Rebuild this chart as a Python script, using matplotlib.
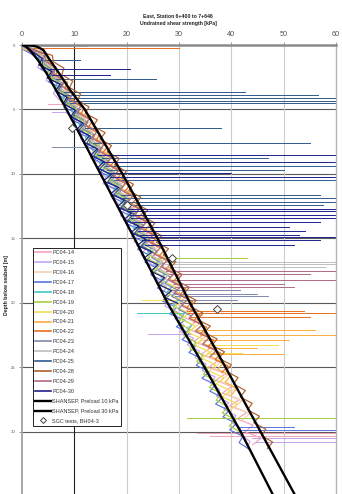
import numpy as np
import matplotlib
matplotlib.use("Agg")
import matplotlib.pyplot as plt
from matplotlib.lines import Line2D

plt.rcParams["font.family"] = ["Liberation Sans", "DejaVu Sans"]

# ---------------- data ----------------
DEPTH_STEP = 0.5  # m between successive readings of every profile

pc04_14 = [0.5, 3.8, 3.1, 5.6, 4.9, 7.3, 6.5, 8.8, 7.9, 10.1, 9.6, 11.9, 10.8, 13.4, 12.2, 14.6, 13.5, 16.2, 15.0, 17.5,
           16.3, 18.9, 17.6, 20.3, 18.8, 21.5, 20.1, 22.9, 21.3, 24.1, 22.6, 25.4, 24.0, 26.9, 25.1, 28.0, 26.4, 29.3, 27.8, 30.6,
           28.9, 31.9, 30.2, 33.1, 31.5, 34.6, 32.8, 36.0, 34.2, 37.4, 35.6, 38.9, 37.0, 40.1, 38.3, 41.6, 39.7, 43.0, 41.1, 44.2,
           42.6, 45.7, 44.1]
pc04_15 = [0.3, 2.2, 3.5, 3.0, 5.1, 4.6, 6.8, 6.0, 7.1, 8.9, 8.4, 10.6, 9.9, 11.8, 11.2, 12.0, 13.9, 13.1, 15.2, 14.6,
           16.0, 15.5, 17.9, 17.0, 18.3, 19.6, 18.8, 20.9, 20.1, 22.2, 21.4, 23.8, 22.7, 24.1, 25.4, 24.6, 26.0, 27.6, 26.9, 28.1,
           27.3, 29.9, 29.2, 31.0, 30.3, 32.8, 31.6, 33.9, 33.1, 35.2, 34.5, 36.9, 36.0, 37.8, 37.2, 39.5, 38.6, 40.9, 40.0, 41.8,
           41.9, 43.6, 43.0]
pc04_16 = [0.8, 4.6, 3.9, 6.1, 5.3, 7.9, 7.0, 9.5, 8.2, 10.8, 11.6, 10.7, 13.4, 12.1, 14.9, 13.5, 15.8, 16.9, 15.4, 18.2,
           17.0, 19.5, 18.1, 20.8, 19.9, 22.3, 20.7, 23.5, 22.0, 24.9, 23.6, 26.0, 24.8, 27.4, 25.9, 28.6, 27.3, 29.9, 28.6, 31.2,
           29.8, 32.5, 31.0, 33.9, 32.4, 35.1, 33.8, 36.6, 35.2, 37.9, 36.7, 39.3, 37.9, 40.8, 39.3, 42.0, 40.7, 43.5, 42.1]
pc04_17 = [0.2, 2.5, 4.2, 3.6, 6.0, 5.1, 7.6, 6.8, 9.1, 8.0, 10.9, 9.8, 12.2, 11.0, 13.6, 12.4, 14.9, 13.8, 16.3, 15.0,
           17.5, 16.2, 18.8, 17.5, 20.0, 18.6, 21.3, 19.9, 22.6, 21.0, 23.8, 22.1, 24.6, 23.5, 26.0, 24.7, 27.2, 25.9, 28.4, 26.8,
           29.6, 28.2, 31.1, 29.5, 32.0, 30.6, 33.2, 31.9, 34.5, 33.3, 35.8, 34.4, 37.0, 35.9, 38.3, 37.0, 39.6, 38.4, 41.0, 39.7,
           42.2, 41.5, 43.4]
pc04_18 = [0.4, 3.3, 3.4, 5.2, 4.9, 7.1, 6.4, 8.3, 7.8, 10.0, 9.5, 11.6, 10.9, 13.0, 12.1, 14.3, 13.5, 15.6, 14.9, 17.0,
           16.2, 18.3, 17.6, 19.8, 18.9, 21.0, 20.2, 22.5, 21.3, 23.6, 22.8, 24.9, 23.9, 26.2, 25.3, 27.4, 26.6, 28.8, 27.7, 30.1,
           28.9, 31.2, 30.4, 32.5, 31.6]
pc04_19 = [0.6, 2.9, 4.6, 4.0, 6.2, 5.6, 7.8, 7.0, 9.2, 8.4, 10.8, 10.1, 12.3, 11.4, 13.8, 12.9, 15.0, 14.1, 16.4, 15.5,
           17.9, 16.8, 19.0, 18.1, 20.4, 19.3, 21.6, 20.5, 22.9, 21.7, 24.1, 22.8, 25.0, 24.0, 26.3, 25.1, 27.4, 26.2, 28.6, 27.4,
           29.7, 28.6, 30.9, 29.8, 32.1, 30.9, 33.3, 32.1, 34.6, 33.4, 35.6, 34.7, 37.0, 35.8, 38.1, 37.1, 39.4, 38.3, 40.8, 39.6,
           41.9]
pc04_20 = [0.3, 3.6, 3.8, 5.5, 5.0, 7.3, 6.7, 8.9, 8.0, 10.5, 9.7, 11.9, 11.2, 13.5, 12.4, 14.8, 13.6, 16.2, 15.0, 17.6,
           16.5, 18.9, 17.7, 20.4, 19.0, 21.6, 20.3, 23.0, 21.6, 24.3, 22.8, 25.5, 24.0, 26.8, 25.3, 28.0, 26.7, 29.5, 27.8, 30.6,
           29.2, 31.9, 30.4, 33.2, 31.8, 34.5, 33.1, 35.9, 34.4, 37.0, 35.8, 38.6, 37.1, 39.8, 38.3, 41.1, 39.9]
pc04_21 = [0.7, 4.3, 4.6, 6.2, 6.0, 8.1, 7.7, 9.8, 9.1, 11.3, 10.8, 12.9, 12.1, 14.4, 13.6, 15.7, 14.9, 17.3, 16.3, 18.7,
           17.6, 20.1, 19.0, 21.4, 20.3, 22.6, 21.6, 24.0, 22.9, 25.3, 24.2, 26.6, 25.5, 27.9, 26.8, 29.3, 28.2, 30.5, 29.4, 31.9,
           30.6, 33.2, 32.0, 34.5, 33.3, 35.8, 34.7, 37.2, 36.0, 38.5, 37.4, 39.9, 38.8, 41.1, 40.0]
pc04_22 = [1.0, 4.9, 5.0, 6.8, 6.4, 8.7, 8.2, 10.3, 9.6, 11.9, 11.2, 13.5, 12.6, 14.9, 14.1, 16.4, 15.3, 17.8, 16.9, 19.2,
           18.1, 20.6, 19.5, 21.9, 20.8, 23.3, 22.2, 24.6, 23.4, 25.9, 24.7, 27.3, 26.1, 28.6, 27.4, 29.9, 28.8, 31.3, 30.1, 32.6,
           31.4, 34.0, 32.8, 35.3, 34.1, 36.7, 35.5, 38.0, 36.9, 39.4, 38.2]
pc04_23 = [0.4, 3.2, 4.5, 4.3, 6.3, 5.8, 7.9, 7.2, 9.4, 8.7, 11.0, 10.3, 12.6, 11.6, 13.9, 12.9, 15.3, 14.4, 16.6, 15.7,
           18.0, 17.1, 19.3, 18.4, 20.6, 19.7, 22.0, 20.9, 23.3, 22.2, 24.6, 23.4, 25.9, 24.8, 27.1, 26.0, 28.4, 27.3, 29.7, 28.6,
           31.0, 29.9, 32.3]
pc04_24 = [0.5, 3.9, 4.0, 5.9, 5.3, 7.4, 6.9, 9.0, 8.3, 10.6, 9.9, 12.1, 11.3, 13.4, 12.8, 14.9, 14.0, 16.2, 15.4, 17.5,
           16.7, 19.0, 17.9, 20.3, 19.3, 21.5, 20.6, 22.9, 21.8, 24.2, 23.2, 25.4, 24.4, 26.8, 25.7, 28.0, 27.1]
pc04_25 = [0.2, 2.4, 4.1, 3.8, 5.9, 5.2, 7.6, 6.7, 8.9, 8.1, 10.4, 9.6, 11.9, 10.9, 13.2, 12.4, 14.6, 13.7, 16.0, 14.9,
           17.3, 16.4, 18.7, 17.6, 20.0, 18.9, 21.4, 20.2, 22.6, 21.5, 23.9, 22.8, 25.1]
pc04_28 = [1.2, 5.8, 6.0, 8.0, 7.6, 9.7, 9.1, 11.2, 10.6, 12.8, 12.1, 14.4, 13.6, 15.9, 14.9, 17.1, 16.3, 18.6, 17.7, 19.9,
           19.0, 21.3, 20.4, 22.7, 21.8, 24.0, 23.1, 25.4, 24.5, 26.7, 25.7, 28.0, 27.0, 29.4, 28.3, 30.6, 29.6, 32.0, 30.9, 33.3,
           32.2, 34.6, 33.5, 36.0, 34.8, 37.3, 36.3, 38.7, 37.6, 40.0, 39.0, 41.3, 40.4, 42.7, 41.7, 44.0, 43.1, 45.4, 44.3, 46.6,
           45.8, 47.9, 46.9]
pc04_29 = [0.6, 4.4, 4.1, 6.5, 5.8, 8.1, 7.6, 9.8, 9.0, 11.3, 10.5, 12.9, 12.0, 14.4, 13.3, 15.8, 14.6, 17.0, 16.1, 18.5,
           17.4, 19.8, 18.7, 21.2, 20.0, 22.5, 21.3, 23.9, 22.6, 25.1, 24.0, 26.5, 25.2, 27.8, 26.5, 29.1, 27.9, 30.4, 29.1, 31.8,
           30.5, 33.1, 31.9, 34.5, 33.1, 35.8, 34.5, 37.2, 35.9]
pc04_30 = [0.3, 2.0, 3.9, 3.2, 5.7, 4.8, 7.3, 6.4, 8.6, 7.9, 10.2, 9.3, 11.6, 10.5, 12.9, 11.8, 14.4, 13.1, 15.6, 14.4,
           17.0, 15.6, 18.4, 16.9, 19.6, 18.2, 20.9, 19.5, 22.3, 20.8, 23.6, 22.0, 24.8, 23.3, 26.0, 24.6, 27.3, 25.9, 28.6, 27.1,
           29.8]

# depth of the first reading of each profile [m]
series_first_depth = [0.0, 0.25, 0.1, 0.35, 0.2, 0.05, 0.3, 0.15, 0.4, 0.0, 0.25, 0.1, 0.3, 0.2, 0.05]

# isolated spikes of each profile: (depth, strength before, strength at spike)
spikes_pc04_14 = [(30.1, 33.5, 60.0), (30.3, 36.0, 60.0), (4.6, 8.5, 5.0)]
spikes_pc04_15 = [(22.4, 32.5, 24.0), (30.5, 44.0, 60.0), (30.8, 44.5, 60.0), (5.2, 9.0, 5.8)]
spikes_pc04_16 = []
spikes_pc04_17 = [(29.6, 41.0, 52.0), (29.9, 41.5, 60.0)]
spikes_pc04_18 = [(20.8, 30.5, 22.0)]
spikes_pc04_19 = [(16.5, 25.5, 43.0), (28.9, 31.5, 60.0)]
spikes_pc04_20 = [(19.8, 29.5, 23.0), (23.3, 35.0, 49.0), (23.9, 35.5, 42.0)]
spikes_pc04_21 = [(22.1, 33.5, 56.0), (22.5, 34.0, 60.0), (22.9, 34.5, 51.0), (23.5, 35.5, 45.0), (24.0, 36.0, 50.0)]
spikes_pc04_22 = [(0.25, 1.5, 30.0), (20.6, 31.5, 53.8), (20.8, 31.8, 60.0), (21.1, 32.0, 55.0)]
spikes_pc04_23 = [(7.9, 13.8, 5.7), (19.0, 28.6, 41.7), (19.3, 29.0, 45.0), (19.5, 29.3, 47.0), (19.8, 29.8, 41.0)]
spikes_pc04_24 = [(0.1, 0.5, 12.5), (16.8, 26.0, 60.0), (17.0, 26.2, 60.0), (17.2, 26.4, 58.0)]
spikes_pc04_25 = [(1.2, 3.8, 11.0), (2.6, 6.5, 25.7), (3.65, 8.0, 42.6), (3.85, 8.3, 56.6), (4.1, 8.6, 60.0),
                  (4.35, 9.0, 60.0), (4.5, 9.2, 60.0), (6.47, 12.0, 38.0), (7.58, 13.6, 55.0), (8.8, 15.2, 47.0),
                  (9.4, 15.8, 60.0), (9.7, 16.3, 50.0), (10.5, 17.5, 60.0), (11.6, 19.0, 57.0), (11.9, 19.3, 60.0),
                  (12.2, 19.5, 60.0), (12.4, 19.8, 57.6)]
spikes_pc04_28 = []
spikes_pc04_29 = [(17.5, 27.5, 60.0), (17.8, 28.0, 55.0), (18.2, 28.5, 60.0), (18.5, 29.0, 50.0), (18.75, 29.2, 52.0)]
spikes_pc04_30 = [(1.9, 5.0, 20.7), (2.3, 5.8, 16.8), (8.53, 14.5, 60.0), (9.05, 15.2, 60.0), (9.9, 16.5, 40.0),
                  (10.2, 16.8, 60.0), (12.7, 20.0, 60.0), (12.9, 20.3, 60.0), (13.2, 20.6, 60.0), (13.4, 20.9, 60.0),
                  (13.7, 21.3, 57.0), (14.1, 21.8, 51.0), (14.4, 22.2, 54.0), (14.7, 22.6, 53.0), (14.9, 22.8, 60.0),
                  (15.1, 23.0, 57.0), (15.5, 23.5, 52.0)]

series_names = ["PC04-14", "PC04-15", "PC04-16", "PC04-17", "PC04-18", "PC04-19", "PC04-20", "PC04-21",
                "PC04-22", "PC04-23", "PC04-24", "PC04-25", "PC04-28", "PC04-29", "PC04-30"]
series_values = [pc04_14, pc04_15, pc04_16, pc04_17, pc04_18, pc04_19, pc04_20, pc04_21,
                 pc04_22, pc04_23, pc04_24, pc04_25, pc04_28, pc04_29, pc04_30]
series_spikes = [spikes_pc04_14, spikes_pc04_15, spikes_pc04_16, spikes_pc04_17, spikes_pc04_18, spikes_pc04_19,
                 spikes_pc04_20, spikes_pc04_21, spikes_pc04_22, spikes_pc04_23, spikes_pc04_24, spikes_pc04_25,
                 spikes_pc04_28, spikes_pc04_29, spikes_pc04_30]
series_colors = ["#f4a3bd", "#c4a4ec", "#f7d2ae", "#5a74e0", "#3cc8c4", "#a6cf3c", "#f6dc50", "#f8ae3e",
                 "#e8701c", "#8088aa", "#bdbdbd", "#2e5a8c", "#b0602c", "#b06a86", "#20208e"]

shansep_depth = [0, 0.05, 0.15, 0.4, 1.2, 2.2, 3.5, 5, 7.5, 10, 15, 20, 25, 30, 35]
shansep_10kpa = [0, 0.6, 0.9, 1.5, 3.1, 4.7, 6.5, 8.5, 11.8, 15.0, 21.5, 27.8, 34.9, 41.8, 48.1]
shansep_30kpa = [0, 2.0, 3.0, 4.1, 5.4, 7.1, 9.2, 12.0, 15.6, 19.2, 25.9, 32.1, 38.9, 45.6, 52.3]

sgc_depth = [6.45, 12.4, 16.5, 20.5]
sgc_su = [9.5, 20.0, 28.6, 37.3]

x_ticks = [0, 10, 20, 30, 40, 50, 60]
y_ticks = [0, 5, 10, 15, 20, 25, 30, 35]

# ---------------- figure ----------------
fig = plt.figure(figsize=(3.42, 4.94), dpi=100)
ax = fig.add_axes([0.0643, -0.0045, 0.918, 0.9134])
ax.set_xlim(0, 60)
ax.set_ylim(35, 0)

# grid
for yv in y_ticks[1:-1]:
    ax.axhline(yv, color="#5a5a5a", lw=0.8, zorder=0.5)
for xv in x_ticks[2:-1]:
    ax.axvline(xv, color="#cccccc", lw=0.8, zorder=0.5)
ax.axvline(10, color="#222222", lw=0.8, zorder=0.5)

lw_data = 0.85
for vals, first, spikes, col in zip(series_values, series_first_depth, series_spikes, series_colors):
    d = first + np.arange(len(vals)) * DEPTH_STEP
    ax.plot(vals, d, color=col, lw=lw_data, zorder=2)
    for (sd, s0, s1) in spikes:
        ax.plot([s0, s1], [sd, sd], color=col, lw=0.7, zorder=2)

ax.plot(shansep_10kpa, shansep_depth, color="black", lw=1.7, zorder=4)
ax.plot(shansep_30kpa, shansep_depth, color="black", lw=1.7, zorder=4)
ax.plot(sgc_su, sgc_depth, ls="none", marker="D", ms=3.6, mfc="white", mec="#444444", mew=0.7, zorder=5)

# axes styling
ax.xaxis.tick_top()
ax.set_xticks(x_ticks)
ax.set_yticks(y_ticks)
ax.tick_params(axis="x", labelsize=5.2, labelcolor="#505050", length=2, width=0.6, color="#888888", pad=3)
ax.tick_params(axis="y", labelsize=3.2, labelcolor="#606060", length=2, width=0.6, color="#888888", pad=2.5)
ax.spines["top"].set_color("#8a8a8a")
ax.spines["top"].set_linewidth(1.8)
ax.spines["left"].set_color("#9a9a9a")
ax.spines["left"].set_linewidth(1.2)
ax.spines["right"].set_color("#b5b5b5")
ax.spines["right"].set_linewidth(1.0)
ax.spines["bottom"].set_visible(False)

fig.text(178 / 342, 1 - 15.5 / 494, "East, Station 6+400 to 7+646", ha="center", va="center",
         fontsize=3.7, fontweight="bold", color="#222222")
fig.text(178 / 342, 1 - 24 / 494, "Undrained shear strength [kPa]", ha="center", va="center",
         fontsize=3.7, fontweight="bold", color="#222222")
fig.text(7 / 342, 1 - 285 / 494, "Depth below seabed [m]", ha="center", va="center", rotation=90,
         fontsize=3.7, fontweight="bold", color="#222222")

# legend
handles = [Line2D([], [], color=c, lw=1.2) for c in series_colors]
labels = list(series_names)
handles.append(Line2D([], [], color="black", lw=1.7))
labels.append("SHANSEP, Preload 10 kPa")
handles.append(Line2D([], [], color="black", lw=1.7))
labels.append("SHANSEP, Preload 30 kPa")
handles.append(Line2D([], [], ls="none", marker="D", ms=3.0, mfc="white", mec="#444444", mew=0.7))
labels.append("SGC tests, BH04-3")
leg = ax.legend(handles, labels, loc="upper left", bbox_to_anchor=(0.035, 0.55), borderaxespad=0,
                fontsize=4.0, handlelength=2.9, handletextpad=0.2, labelspacing=0.88, borderpad=0.4,
                frameon=True, fancybox=False, edgecolor="#222222", framealpha=1)
leg.get_frame().set_linewidth(0.7)
for t in leg.get_texts():
    t.set_color("#333333")
leg.set_zorder(6)

fig.savefig("out.png", dpi=100)
